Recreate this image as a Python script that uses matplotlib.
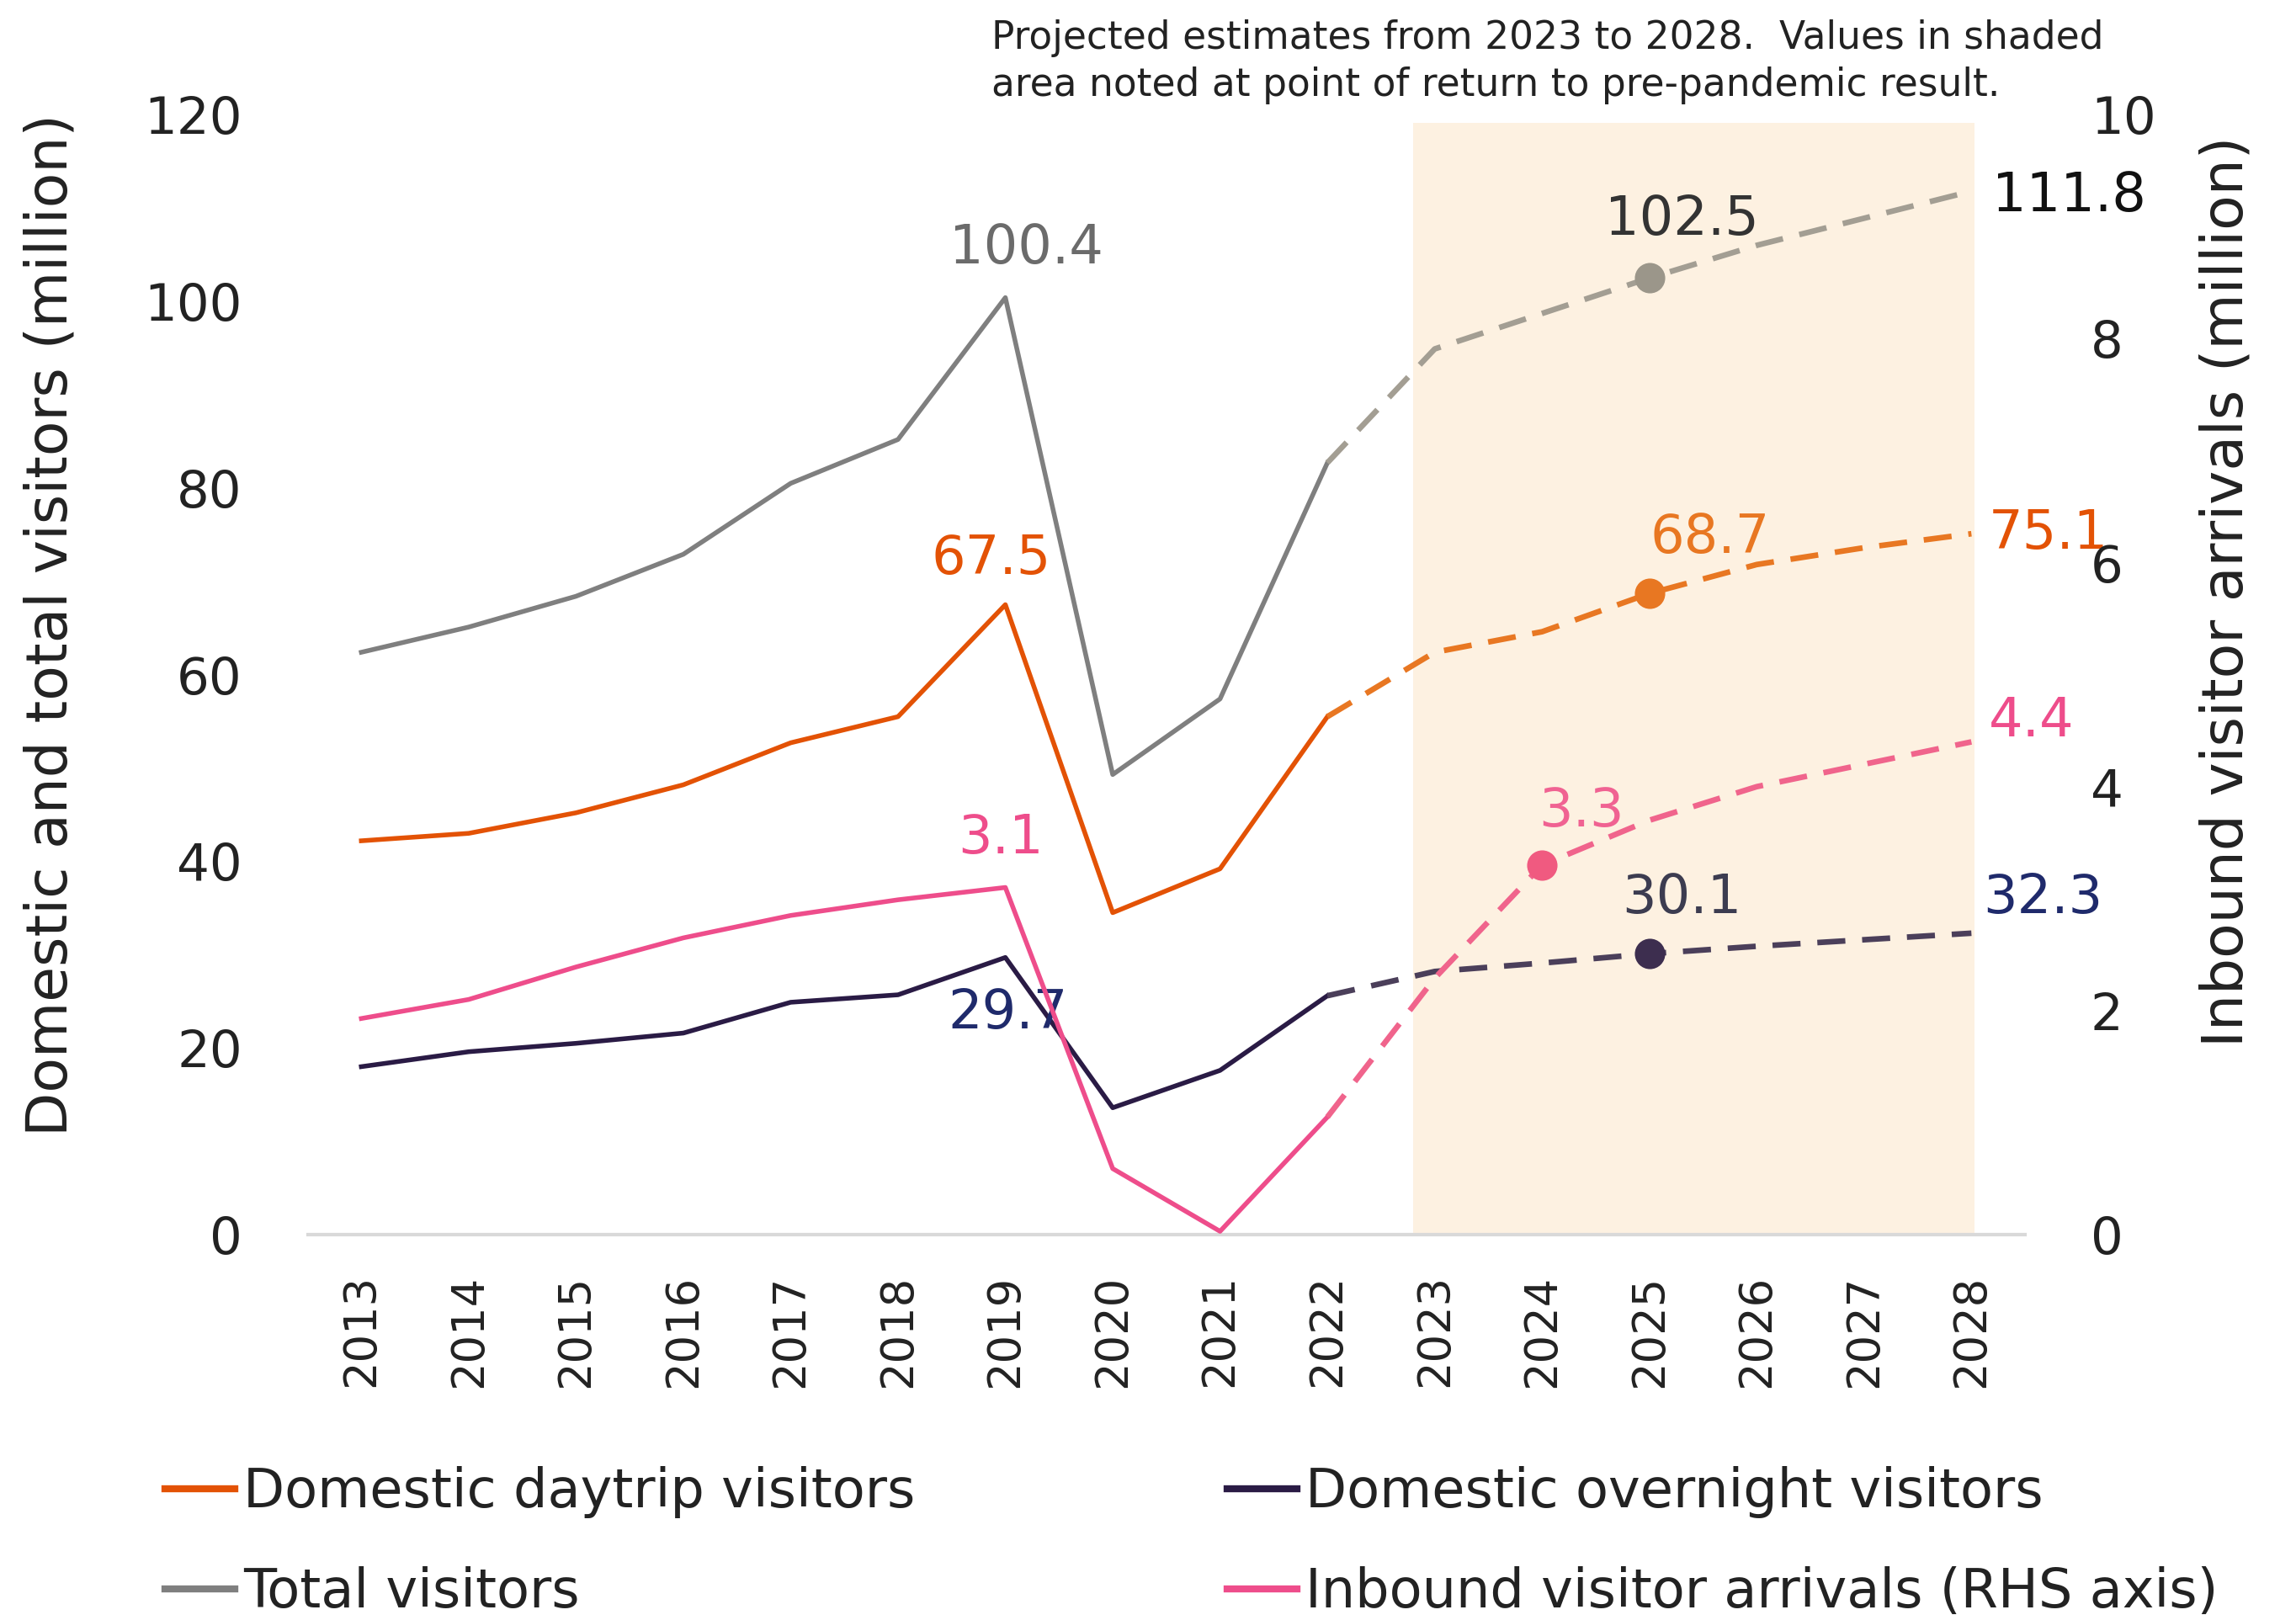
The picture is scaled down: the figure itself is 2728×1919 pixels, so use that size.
import numpy as np
import matplotlib.pyplot as plt

plt.rcParams['font.family'] = ['DejaVu Sans']

years = np.arange(2013, 2029)
daytrip = [42.2, 43.0, 45.2, 48.2, 52.7, 55.5, 67.5, 34.5, 39.2, 55.5,
           62.4, 64.6, 68.7, 71.8, 73.6, 75.1]
overnight = [18.0, 19.6, 20.5, 21.6, 24.9, 25.7, 29.7, 13.6, 17.6, 25.6,
             28.2, 29.1, 30.1, 30.9, 31.6, 32.3]
total = [62.4, 65.1, 68.4, 72.9, 80.5, 85.2, 100.4, 49.3, 57.4, 82.7,
         94.9, 98.7, 102.5, 106.0, 108.9, 111.8]
inbound = [1.93, 2.10, 2.39, 2.65, 2.85, 2.99, 3.1, 0.59, 0.03, 1.05,
           2.29, 3.3, 3.7, 4.0, 4.2, 4.4]
last_actual = 9          # 2022, projections after this
shade_from, shade_to = 2022.8, 2028.03

c_day, c_day2 = '#E35205', '#E87722'
c_tot, c_tot2 = '#7F7F7F', '#A39E93'
c_ovn, c_ovn2 = '#2A1B45', '#4B3F5A'
c_inb, c_inb2 = '#EE4D8B', '#F0648C'
c_navy = '#1F2A6B'

fig = plt.figure(figsize=(13.64, 9.595), dpi=200)
ax = fig.add_axes([0.134, 0.2355, 0.748, 0.6935])
ax2 = ax.twinx()

ax.axvspan(shade_from, shade_to, ymin=0, ymax=0.993, color='#FDF1E1', zorder=0, lw=0)

a, b = slice(0, last_actual + 1), slice(last_actual, None)
dash = (5, 3)
for ser, c1, c2, axx in [(total, c_tot, c_tot2, ax), (daytrip, c_day, c_day2, ax),
                         (overnight, c_ovn, c_ovn2, ax), (inbound, c_inb, c_inb2, ax2)]:
    ser = np.array(ser)
    axx.plot(years[a], ser[a], color=c1, lw=2.0, zorder=3)
    axx.plot(years[b], ser[b], color=c2, lw=2.4, dashes=dash, zorder=3)

# return-to-pre-pandemic markers
ax.plot(years[12], total[12], 'o', color='#9B968A', ms=12, zorder=4)
ax.plot(years[12], daytrip[12], 'o', color=c_day2, ms=12, zorder=4)
ax.plot(years[12], overnight[12], 'o', color='#3D2E4F', ms=12, zorder=4)
ax2.plot(years[11], inbound[11], 'o', color='#F05A80', ms=12, zorder=4)

def lab(axx, i, ser, txt, dx, dy, color, ha='center'):
    axx.annotate(txt, (years[i], ser[i]), xytext=(dx, dy), textcoords='offset points',
                 ha=ha, va='center', fontsize=23, color=color, zorder=6)

lab(ax, 6, total, '100.4', 9, 21, '#6B6B6B')
lab(ax, 6, daytrip, '67.5', -6, 19.5, c_day)
lab(ax2, 6, inbound, '3.1', -2, 21, c_inb)
lab(ax, 6, overnight, '29.7', 1, -24, c_navy)
lab(ax, 12, total, '102.5', 14, 25, '#333333')
lab(ax, 12, daytrip, '68.7', 26, 24, c_day2)
lab(ax2, 11, inbound, '3.3', 17, 23, '#F06292')
lab(ax, 12, overnight, '30.1', 14, 24, '#3C3C50')
lab(ax, 15, total, '111.8', 9, -2, '#111111', ha='left')
lab(ax, 15, daytrip, '75.1', 7.5, 0, c_day, ha='left')
lab(ax2, 15, inbound, '4.4', 7.5, 9, c_inb, ha='left')
lab(ax, 15, overnight, '32.3', 5, 15, c_navy, ha='left')

ax.set_xlim(2012.5, 2028.5)
ax.set_ylim(0, 120)
ax2.set_ylim(0, 10)
ax.set_xticks(years)
ax.set_xticklabels([str(y) for y in years], rotation=90, fontsize=19, color='#222222')
ax.set_yticks(range(0, 121, 20))
ax2.set_yticks(range(0, 11, 2))
ax.tick_params(axis='y', length=0, pad=28, labelsize=22, labelcolor='#222222')
ax2.tick_params(axis='y', length=0, pad=28, labelsize=22, labelcolor='#222222')
ax.tick_params(axis='x', length=0, pad=17)
for s in ['top', 'left', 'right']:
    ax.spines[s].set_visible(False)
for s in ax2.spines.values():
    s.set_visible(False)
ax.spines['bottom'].set_color('#D9D9D9')
ax.spines['bottom'].set_linewidth(1.5)

fig.text(0.022, 0.613, 'Domestic and total visitors (million)', rotation=90,
         ha='center', va='center', fontsize=24.5, color='#222222')
fig.text(0.9696, 0.352, 'Inbound visitor arrivals (million)', rotation=90,
         ha='center', va='bottom', fontsize=24.5, color='#222222')
fig.text(0.4318, 0.988, 'Projected estimates from 2023 to 2028.  Values in shaded\n'
         'area noted at point of return to pre-pandemic result.',
         ha='left', va='top', fontsize=16.4, linespacing=1.3, color='#222222')

handles = [plt.Line2D([], [], color=c_day, lw=3), plt.Line2D([], [], color=c_tot, lw=3),
           plt.Line2D([], [], color=c_ovn, lw=3), plt.Line2D([], [], color=c_inb, lw=3)]
labels = ['Domestic daytrip visitors', 'Total visitors',
          'Domestic overnight visitors', 'Inbound visitor arrivals (RHS axis)']
fig.legend(handles, labels, ncol=2, loc='upper left', bbox_to_anchor=(0.072, 0.092),
           frameon=False, fontsize=23, handlelength=1.3, handletextpad=0.15,
           columnspacing=5.8, labelspacing=0.89, borderpad=0, borderaxespad=0,
           labelcolor='#222222')

fig.savefig('out.png', dpi=200)
